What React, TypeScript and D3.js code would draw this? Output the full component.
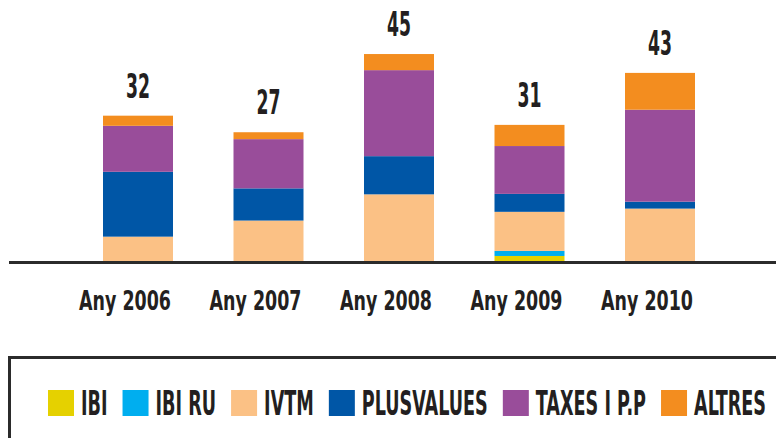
import React, { useEffect, useRef } from 'react';
import * as d3 from 'd3';

// Tax revenue by year, stacked by tax type

const years = ['Any 2006', 'Any 2007', 'Any 2008', 'Any 2009', 'Any 2010'];
const seriesNames = ['IBI', 'IBI RU', 'IVTM', 'PLUSVALUES', 'TAXES I P.P', 'ALTRES'];
const seriesColors = ['#e5d100', '#00aeef', '#fbc185', '#0056a6', '#994d9a', '#f38d1f'];

const ibi = [0, 0, 0, 1.2, 0];
const ibiRu = [0, 0, 0, 1.1, 0];
const ivtm = [5.4, 8.9, 14.6, 8.5, 11.5];
const plusvalues = [14.1, 7.0, 8.3, 3.9, 1.5];
const taxes = [10.0, 10.7, 18.7, 10.4, 20.0];
const altres = [2.2, 1.5, 3.5, 4.6, 8.0];
const totalLabels = ['32', '27', '45', '31', '43'];

const FONT = '"Liberation Sans Narrow", "DejaVu Sans Condensed", sans-serif';

const App = () => {
  const svgRef = useRef<SVGSVGElement>(null);

  useEffect(() => {
    const width = 776;
    const height = 438;
    const baseline = 261.5;
    const ink = '#231f20';

    const svg = d3.select(svgRef.current);
    svg.selectAll('*').remove();

    const measure = (s: string, size: number) => {
      const t = svg.append('text')
        .attr('font-family', FONT).attr('font-weight', 'bold').attr('font-size', size)
        .text(s);
      const w = (t.node() as SVGTextElement).getComputedTextLength();
      t.remove();
      return w;
    };
    // the original uses a very condensed face; squeeze ours to the same widths
    const sTotals = 24 / measure('32', 34);
    const sAxis = 92 / measure('Any 2006', 26);

    const rows = years.map((y, i) => ({
      year: y,
      IBI: ibi[i],
      'IBI RU': ibiRu[i],
      IVTM: ivtm[i],
      PLUSVALUES: plusvalues[i],
      'TAXES I P.P': taxes[i],
      ALTRES: altres[i],
    }));

    const stack = d3.stack<any>().keys(seriesNames);
    const layers = stack(rows);

    const x = d3.scaleBand().domain(years).range([72.75, 725.25]).paddingInner(0.4636).paddingOuter(0.2318);
    const y = d3.scaleLinear().domain([0, 50]).range([baseline, baseline - 230]);
    const color = d3.scaleOrdinal<string>().domain(seriesNames).range(seriesColors);

    // stacked bars
    svg.append('g')
      .selectAll('g')
      .data(layers)
      .join('g')
      .attr('fill', d => color(d.key))
      .selectAll('rect')
      .data(d => d)
      .join('rect')
      .attr('x', d => x(d.data.year)!)
      .attr('width', x.bandwidth())
      .attr('y', d => y(d[1]))
      .attr('height', d => y(d[0]) - y(d[1]));

    // totals above bars
    const top = layers[layers.length - 1];
    svg.append('g')
      .selectAll('g')
      .data(top)
      .join('g')
      .attr('transform', (d, i) => `translate(${x(years[i])! + x.bandwidth() / 2},${y(d[1]) - 18}) scale(${sTotals},1)`)
      .append('text')
      .attr('text-anchor', 'middle')
      .attr('font-family', FONT)
      .attr('font-weight', 'bold')
      .attr('font-size', 34)
      .attr('fill', ink)
      .text((d, i) => totalLabels[i]);

    // x axis line
    svg.append('line')
      .attr('x1', 9).attr('x2', width)
      .attr('y1', baseline + 1).attr('y2', baseline + 1)
      .attr('stroke', '#2b2b2b').attr('stroke-width', 3);

    // x labels
    svg.append('g')
      .selectAll('g')
      .data(years)
      .join('g')
      .attr('transform', d => `translate(${x(d)! + x.bandwidth() / 2 - 13},310) scale(${sAxis},1)`)
      .append('text')
      .attr('text-anchor', 'middle')
      .attr('font-family', FONT)
      .attr('font-weight', 'bold')
      .attr('font-size', 26)
      .attr('fill', ink)
      .text(d => d);

    // legend frame
    svg.append('path')
      .attr('d', `M9.5,${height} V357.5 H${width}`)
      .attr('fill', 'none')
      .attr('stroke', '#2b2b2b')
      .attr('stroke-width', 3);

    // legend: swatch 26, gap 7, text, gap 15 — squeezed so it runs from 48 to 766
    const sw = 26, gapIn = 7, gapOut = 15, legendLeft = 48, legendRight = 766;
    const natural = seriesNames.map(n => measure(n, 33));
    const room = legendRight - legendLeft - seriesNames.length * (sw + gapIn) - (seriesNames.length - 1) * gapOut;
    const sLegend = room / d3.sum(natural);

    const legend = svg.append('g');
    let cx = legendLeft;
    seriesNames.forEach((name, i) => {
      legend.append('rect')
        .attr('x', cx).attr('y', 390)
        .attr('width', sw).attr('height', sw)
        .attr('fill', seriesColors[i]);
      legend.append('g')
        .attr('transform', `translate(${cx + sw + gapIn},415) scale(${sLegend},1)`)
        .append('text')
        .attr('font-family', FONT)
        .attr('font-weight', 'bold')
        .attr('font-size', 33)
        .attr('fill', ink)
        .text(name);
      cx += sw + gapIn + natural[i] * sLegend + gapOut;
    });
  }, []);

  return (
    <svg
      ref={svgRef}
      width="776"
      height="438"
      style={{ position: 'absolute', left: 0, top: 0, background: '#fff' }}
    />
  );
};

export default App;
